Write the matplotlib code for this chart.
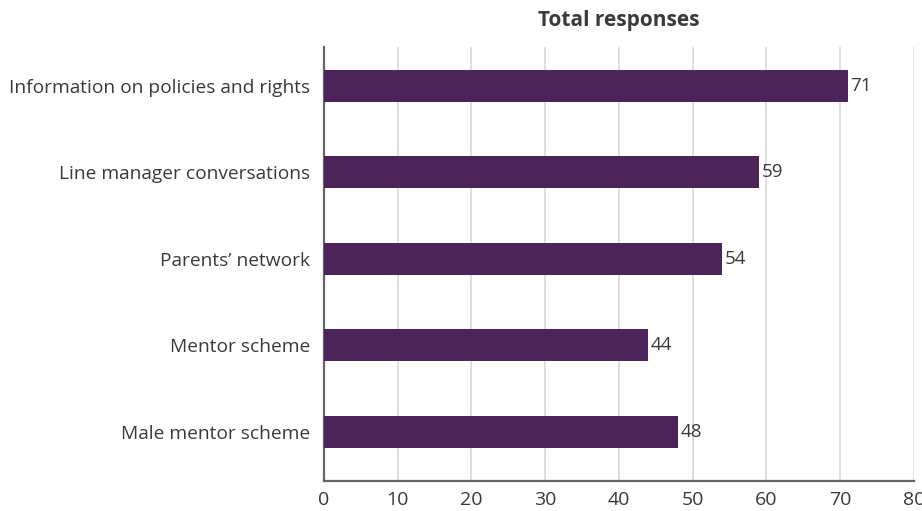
import matplotlib
matplotlib.use("Agg")
import matplotlib.pyplot as plt

categories = ["Male mentor scheme", "Mentor scheme", "Parents\u2019 network",
              "Line manager conversations", "Information on policies and rights"]
values = [48, 44, 54, 59, 71]
xticks = [0, 10, 20, 30, 40, 50, 60, 70, 80]

plt.rcParams['font.family'] = ['Open Sans', 'DejaVu Sans']
BAR = "#4d2459"
TXT = "#3a3a3a"

fig = plt.figure(figsize=(9.22, 5.11), dpi=100)
ax = fig.add_axes([0.3514, 0.0587, 0.6399, 0.8493])

pos = range(len(categories))
ax.barh(pos, values, height=0.37, color=BAR, zorder=3)
for p, v in zip(pos, values):
    ax.text(v + 0.3, p, str(v), va='center', ha='left', fontsize=13.5, color=TXT)

ax.set_xlim(0, 80)
ax.set_ylim(-0.57, 4.45)
ax.set_yticks(list(pos))
ax.set_yticklabels(categories, fontsize=13.8, color=TXT)
ax.set_xticks(xticks)
ax.set_xticklabels([str(t) for t in xticks], fontsize=14, color=TXT)
ax.tick_params(axis='both', length=0)
ax.tick_params(axis='y', pad=10)
ax.tick_params(axis='x', pad=7)
ax.grid(axis='x', color='#d9d9d9', linewidth=1.2, zorder=0)

for s in ['top', 'right']:
    ax.spines[s].set_visible(False)
for s in ['left', 'bottom']:
    ax.spines[s].set_color('#666666')
    ax.spines[s].set_linewidth(1.6)

ax.set_title("Total responses", fontsize=15, fontweight='bold', color=TXT, pad=15)

fig.savefig("out.png", dpi=100)
